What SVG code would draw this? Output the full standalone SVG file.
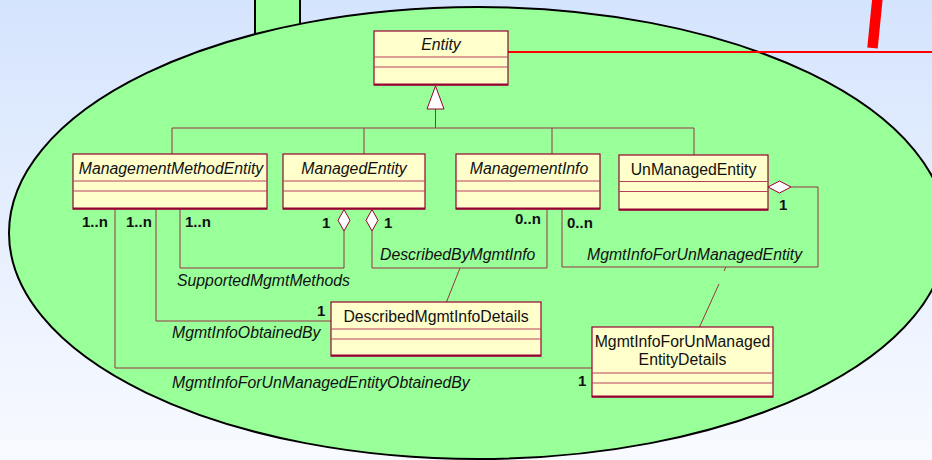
<svg xmlns="http://www.w3.org/2000/svg" width="932" height="460" viewBox="0 0 932 460">
  <defs>
    <linearGradient id="bg" x1="0" y1="0" x2="0" y2="1">
      <stop offset="0" stop-color="#d5e4fd"/>
      <stop offset="1" stop-color="#f8faff"/>
    </linearGradient>
    <style>
      text { font-family: "Liberation Sans", Arial, sans-serif; font-size: 15.8px; fill: #111; }
      .name { text-anchor: middle; }
      .abstract { font-style: italic; }
      .role { font-style: italic; }
      .mult { font-weight: bold; font-size: 15px; }
      .box { fill: #ffffcc; stroke: #990033; stroke-width: 1.2; }
      .div { stroke: #b8405e; stroke-width: 1; }
      .base { stroke: #990033; stroke-width: 2; }
      .wire { fill: none; stroke: #993344; stroke-width: 1; }
      .agg { fill: #ffffff; stroke: #990033; stroke-width: 1; }
    </style>
  </defs>

  <!-- backdrop -->
  <rect x="0" y="0" width="932" height="460" fill="url(#bg)"/>
  <rect x="255" y="-5" width="45" height="60" fill="#99ff99" stroke="#000" stroke-width="2"/>
  <ellipse cx="478" cy="233" rx="469" ry="226" fill="#99ff99" stroke="#000" stroke-width="2"/>
  <line x1="508" y1="52" x2="932" y2="52" stroke="#ff0000" stroke-width="2"/>
  <line x1="877.5" y1="-2" x2="872.5" y2="48" stroke="#ff0000" stroke-width="10.5"/>

  <!-- connectors -->
  <g id="connectors">
    <!-- generalization tree -->
    <polyline class="wire" points="172,154 172,128 694,128 694,155"/>
    <line class="wire" x1="364" y1="128" x2="364" y2="154"/>
    <line class="wire" x1="552" y1="128" x2="552" y2="154"/>
    <line class="wire" x1="435.5" y1="128" x2="435.5" y2="109"/>
    <polygon class="agg" points="435.5,86 444,109 427,109"/>

    <!-- SupportedMgmtMethods -->
    <polyline class="wire" points="180,209 180,268 344,268 344,231"/>
    <polygon class="agg" points="344,209.5 350,220.3 344,231 338,220.3"/>

    <!-- DescribedByMgmtInfo -->
    <polyline class="wire" points="372,231 372,268 547,268 547,209"/>
    <polygon class="agg" points="372,209.5 378,220.3 372,231 366,220.3"/>
    <line class="wire" x1="460" y1="268" x2="446.5" y2="302"/>

    <!-- MgmtInfoForUnManagedEntity -->
    <polyline class="wire" points="562,209 562,267 818,267 818,187 791,187"/>
    <polygon class="agg" points="768,187 779.5,181 791,187 779.5,193"/>
    <line class="wire" x1="725.7" y1="267" x2="724.2" y2="271"/>
    <line class="wire" x1="719" y1="284" x2="699.5" y2="327"/>

    <!-- MgmtInfoObtainedBy -->
    <polyline class="wire" points="156,209 156,321 331,321"/>

    <!-- MgmtInfoForUnManagedEntityObtainedBy -->
    <polyline class="wire" points="115,209 115,368 592,368"/>
  </g>

  <!-- association labels -->
  <g id="labels">
    <text class="role" x="177" y="286">SupportedMgmtMethods</text>
    <text class="role" x="380" y="260">DescribedByMgmtInfo</text>
    <text class="role" x="587" y="260">MgmtInfoForUnManagedEntity</text>
    <text class="role" x="172" y="338">MgmtInfoObtainedBy</text>
    <text class="role" x="172" y="388">MgmtInfoForUnManagedEntityObtainedBy</text>

    <text class="mult" x="82" y="227">1..n</text>
    <text class="mult" x="126" y="227">1..n</text>
    <text class="mult" x="185" y="227">1..n</text>
    <text class="mult" x="322" y="228">1</text>
    <text class="mult" x="384" y="228">1</text>
    <text class="mult" x="515" y="224">0..n</text>
    <text class="mult" x="567" y="228">0..n</text>
    <text class="mult" x="779" y="210">1</text>
    <text class="mult" x="317" y="316">1</text>
    <text class="mult" x="578" y="386">1</text>
  </g>

  <!-- classes -->
  <g id="Entity">
    <rect class="box" x="374" y="31" width="134" height="54"/>
    <line class="div" x1="374" y1="57" x2="508" y2="57"/>
    <line class="div" x1="374" y1="67" x2="508" y2="67"/>
    <line class="base" x1="374" y1="84.5" x2="508" y2="84.5"/>
    <text class="name abstract" x="441" y="50">Entity</text>
  </g>

  <g id="ManagementMethodEntity">
    <rect class="box" x="73" y="154" width="194" height="55"/>
    <line class="div" x1="73" y1="181" x2="267" y2="181"/>
    <line class="div" x1="73" y1="191" x2="267" y2="191"/>
    <line class="base" x1="73" y1="208.5" x2="267" y2="208.5"/>
    <text class="name abstract" x="171" y="174">ManagementMethodEntity</text>
  </g>

  <g id="ManagedEntity">
    <rect class="box" x="283" y="154" width="142" height="55"/>
    <line class="div" x1="283" y1="181" x2="425" y2="181"/>
    <line class="div" x1="283" y1="191" x2="425" y2="191"/>
    <line class="base" x1="283" y1="208.5" x2="425" y2="208.5"/>
    <text class="name abstract" x="354" y="174">ManagedEntity</text>
  </g>

  <g id="ManagementInfo">
    <rect class="box" x="456" y="154" width="144" height="55"/>
    <line class="div" x1="456" y1="181" x2="600" y2="181"/>
    <line class="div" x1="456" y1="191" x2="600" y2="191"/>
    <line class="base" x1="456" y1="208.5" x2="600" y2="208.5"/>
    <text class="name abstract" x="529" y="174">ManagementInfo</text>
  </g>

  <g id="UnManagedEntity">
    <rect class="box" x="619" y="155" width="149" height="55"/>
    <line class="div" x1="619" y1="181.5" x2="768" y2="181.5"/>
    <line class="div" x1="619" y1="191.5" x2="768" y2="191.5"/>
    <line class="base" x1="619" y1="209.5" x2="768" y2="209.5"/>
    <text class="name" x="693.5" y="175">UnManagedEntity</text>
  </g>

  <g id="DescribedMgmtInfoDetails">
    <rect class="box" x="331" y="302" width="210" height="54"/>
    <line class="div" x1="331" y1="329" x2="541" y2="329"/>
    <line class="div" x1="331" y1="339" x2="541" y2="339"/>
    <line class="base" x1="331" y1="355.5" x2="541" y2="355.5"/>
    <text class="name" x="436" y="322">DescribedMgmtInfoDetails</text>
  </g>

  <g id="MgmtInfoForUnManagedEntityDetails">
    <rect class="box" x="592" y="327" width="181" height="70"/>
    <line class="div" x1="592" y1="373" x2="773" y2="373"/>
    <line class="div" x1="592" y1="383" x2="773" y2="383"/>
    <line class="base" x1="592" y1="396.5" x2="773" y2="396.5"/>
    <text class="name" x="682.5" y="347">MgmtInfoForUnManaged</text>
    <text class="name" x="682.5" y="365">EntityDetails</text>
  </g>
</svg>
